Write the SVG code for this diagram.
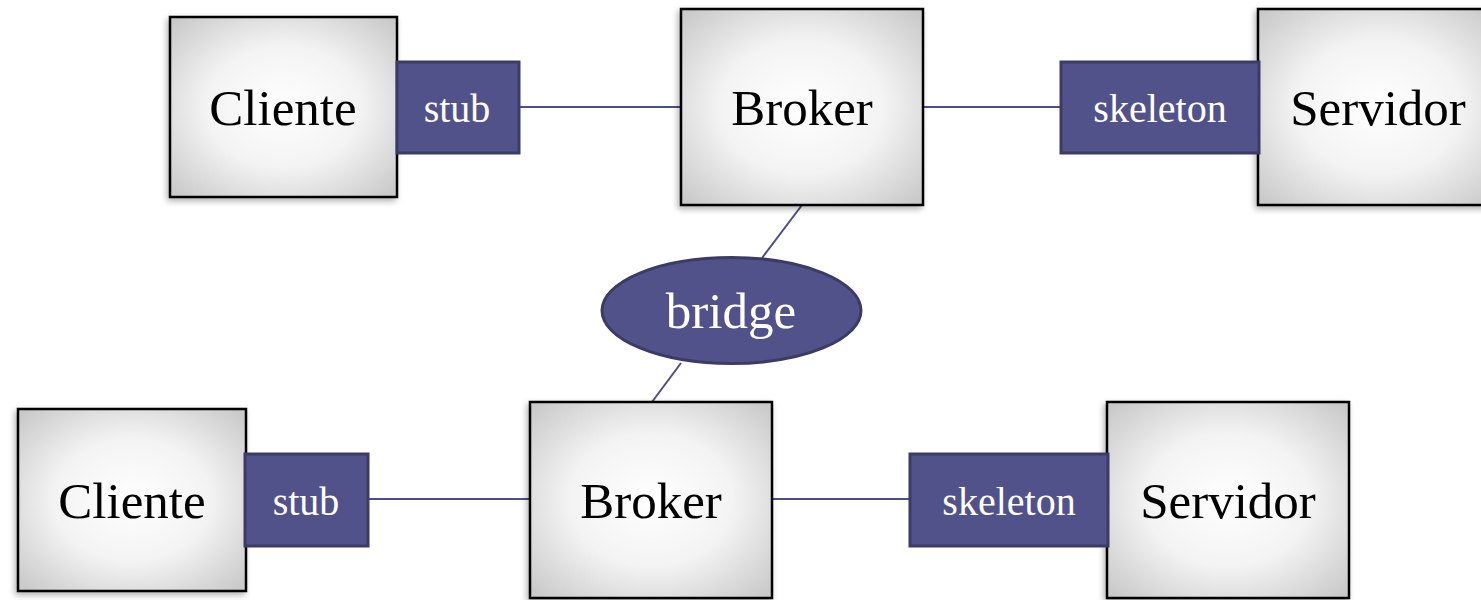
<svg xmlns="http://www.w3.org/2000/svg" width="1481" height="600" viewBox="0 0 1481 600">
  <defs>
    <radialGradient id="boxFill" cx="50%" cy="50%" r="68%">
      <stop offset="0" stop-color="#ffffff"/>
      <stop offset="0.5" stop-color="#f3f3f3"/>
      <stop offset="1" stop-color="#c9c9c9"/>
    </radialGradient>
    <filter id="shadow" x="-10%" y="-10%" width="125%" height="125%">
      <feGaussianBlur in="SourceAlpha" stdDeviation="3"/>
      <feOffset dx="-2" dy="3" result="b"/>
      <feComponentTransfer><feFuncA type="linear" slope="0.3"/></feComponentTransfer>
      <feMerge><feMergeNode/><feMergeNode in="SourceGraphic"/></feMerge>
    </filter>
  </defs>
  <style>
    .box { fill: url(#boxFill); stroke: #000; stroke-width: 2.5; filter: url(#shadow); }
    .tag { fill: #52528a; stroke: #3c3b66; stroke-width: 3; }
    .big { font-family: "Liberation Serif", serif; font-size: 51px; fill: #000; text-anchor: middle; }
    .small { font-family: "Liberation Serif", serif; font-size: 40px; fill: #fff; text-anchor: middle; }
    .bridgeText { font-family: "Liberation Serif", serif; font-size: 51px; fill: #fff; text-anchor: middle; }
    .link { stroke: #4d4d8a; stroke-width: 2; fill: none; }
  </style>
  <rect width="1481" height="600" fill="#fff"/>

  <g id="connectors">
    <line class="link" x1="519" y1="107" x2="681" y2="107"/>
    <line class="link" x1="923" y1="107" x2="1061" y2="107"/>
    <line class="link" x1="802" y1="205" x2="762" y2="258"/>
    <line class="link" x1="681" y1="363" x2="652" y2="402"/>
    <line class="link" x1="368" y1="499" x2="530" y2="499"/>
    <line class="link" x1="772" y1="499" x2="909" y2="499"/>
  </g>

  <!-- upper system -->
  <g id="cliente-1">
    <rect class="box" x="170" y="17" width="227" height="180"/>
    <text class="big" x="283" y="125">Cliente</text>
  </g>
  <g id="stub-1">
    <rect class="tag" x="397" y="62" width="122" height="91"/>
    <text class="small" x="457" y="122">stub</text>
  </g>
  <g id="broker-1">
    <rect class="box" x="681" y="9" width="242" height="196"/>
    <text class="big" x="802" y="125">Broker</text>
  </g>
  <g id="servidor-1">
    <rect class="box" x="1258" y="9" width="242" height="196"/>
    <text class="big" x="1378" y="125">Servidor</text>
  </g>
  <g id="skeleton-1">
    <rect class="tag" x="1061" y="62" width="198" height="91"/>
    <text class="small" x="1160" y="122">skeleton</text>
  </g>

  <!-- bridge between brokers -->
  <g id="bridge">
    <ellipse class="tag" cx="731.5" cy="310.5" rx="129.5" ry="53"/>
    <text class="bridgeText" x="731" y="328">bridge</text>
  </g>

  <!-- lower system -->
  <g id="cliente-2">
    <rect class="box" x="18" y="409" width="228" height="182"/>
    <text class="big" x="132" y="518">Cliente</text>
  </g>
  <g id="stub-2">
    <rect class="tag" x="245" y="454" width="123" height="92"/>
    <text class="small" x="306" y="515">stub</text>
  </g>
  <g id="broker-2">
    <rect class="box" x="530" y="402" width="242" height="196"/>
    <text class="big" x="651" y="518">Broker</text>
  </g>
  <g id="servidor-2">
    <rect class="box" x="1107" y="402" width="242" height="196"/>
    <text class="big" x="1228" y="518">Servidor</text>
  </g>
  <g id="skeleton-2">
    <rect class="tag" x="910" y="454" width="198" height="92"/>
    <text class="small" x="1009" y="515">skeleton</text>
  </g>
</svg>
